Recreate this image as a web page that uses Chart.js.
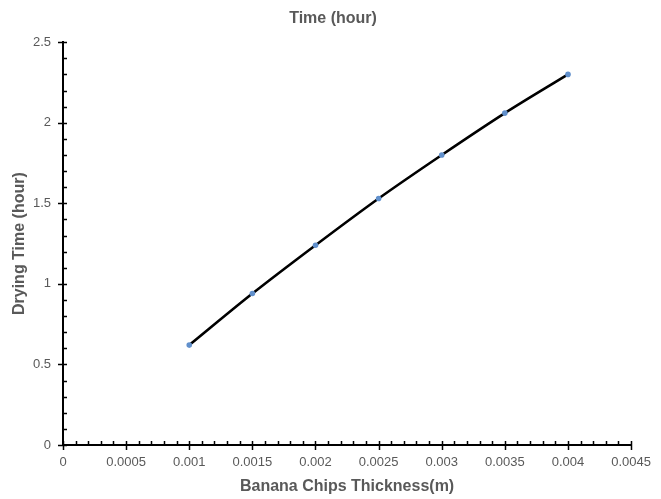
<!DOCTYPE html>
<html>
<head>
<meta charset="utf-8">
<script src="https://cdn.jsdelivr.net/npm/chart.js@4/dist/chart.umd.min.js"></script>
<style>
  html, body { margin: 0; padding: 0; background: #fff; }
  #wrap { width: 661px; height: 499px; }
</style>
</head>
<body>
<div id="wrap"><canvas id="c" width="661" height="499"></canvas></div>
<script>
// Banana chip thickness (m) and measured drying time (hour)
const thickness = [0.001, 0.0015, 0.002, 0.0025, 0.003, 0.0035, 0.004];
const dryingTime = [0.62, 0.94, 1.24, 1.53, 1.80, 2.06, 2.30];

// Axis tick values and labels
const xTickValues = [0, 0.0005, 0.001, 0.0015, 0.002, 0.0025, 0.003, 0.0035, 0.004, 0.0045];
const xTickLabels = ['0', '0.0005', '0.001', '0.0015', '0.002', '0.0025', '0.003', '0.0035', '0.004', '0.0045'];
const yTickValues = [0, 0.5, 1, 1.5, 2, 2.5];
const yTickLabels = ['0', '0.5', '1', '1.5', '2', '2.5'];

const textGrey = '#595959';
const fontFamily = '"Liberation Sans", Arial, sans-serif';

// Draws tick marks: major ticks cross the axis line, minor ticks sit inside the plot
const axisTicks = {
  id: 'axisTicks',
  afterLayout(chart) {
    // centre the chart title a little right of the canvas middle
    if (chart.titleBlock) chart.titleBlock.left = 32;
  },
  afterDraw(chart) {
    const { ctx, scales: { x, y } } = chart;
    const minorPerMajor = 5;
    ctx.save();
    ctx.strokeStyle = '#000';
    ctx.lineWidth = 1.5;
    ctx.beginPath();
    // x axis
    const xAxisY = y.getPixelForValue(0);
    for (let i = 0; i < xTickValues.length; i++) {
      const px = Math.round(x.getPixelForValue(xTickValues[i])) + 0.5;
      ctx.moveTo(px, xAxisY - 4);
      ctx.lineTo(px, xAxisY + 5);
      if (i < xTickValues.length - 1) {
        const step = (xTickValues[i + 1] - xTickValues[i]) / minorPerMajor;
        for (let k = 1; k < minorPerMajor; k++) {
          const mx = Math.round(x.getPixelForValue(xTickValues[i] + k * step)) + 0.5;
          ctx.moveTo(mx, xAxisY);
          ctx.lineTo(mx, xAxisY - 4);
        }
      }
    }
    // y axis
    const yAxisX = x.getPixelForValue(0);
    for (let i = 0; i < yTickValues.length; i++) {
      const py = Math.round(y.getPixelForValue(yTickValues[i])) + 0.5;
      ctx.moveTo(yAxisX - 5, py);
      ctx.lineTo(yAxisX + 4, py);
      if (i < yTickValues.length - 1) {
        const step = (yTickValues[i + 1] - yTickValues[i]) / minorPerMajor;
        for (let k = 1; k < minorPerMajor; k++) {
          const my = Math.round(y.getPixelForValue(yTickValues[i] + k * step)) + 0.5;
          ctx.moveTo(yAxisX, my);
          ctx.lineTo(yAxisX + 4, my);
        }
      }
    }
    ctx.stroke();
    ctx.restore();
  }
};

new Chart(document.getElementById('c'), {
  type: 'scatter',
  data: {
    datasets: [{
      label: 'Time (hour)',
      data: thickness.map((t, i) => ({ x: t, y: dryingTime[i] })),
      showLine: true,
      borderColor: '#000',
      borderWidth: 2.6,
      tension: 0.4,
      cubicInterpolationMode: 'monotone',
      pointRadius: 2.8,
      pointBackgroundColor: '#6190cc',
      pointBorderWidth: 0,
      pointHoverRadius: 3
    }]
  },
  options: {
    responsive: false,
    animation: false,
    layout: { padding: { left: 0, right: 27, top: 0, bottom: 0 } },
    plugins: {
      legend: { display: false },
      tooltip: { enabled: false },
      title: {
        display: true,
        text: 'Time (hour)',
        color: textGrey,
        font: { family: fontFamily, size: 16, weight: 'bold' },
        padding: { top: 9, bottom: 14 }
      }
    },
    scales: {
      x: {
        type: 'linear',
        min: 0,
        max: 0.0045,
        afterBuildTicks: s => { s.ticks = xTickValues.map(v => ({ value: v })); },
        afterFit: s => { s.height = 54; },
        grid: { display: false, drawTicks: false },
        border: { display: true, color: '#000', width: 2 },
        ticks: {
          color: textGrey,
          font: { family: fontFamily, size: 13 },
          padding: 10,
          maxRotation: 0,
          autoSkip: false,
          callback: v => xTickLabels[xTickValues.indexOf(v)]
        },
        title: {
          display: true,
          text: 'Banana Chips Thickness(m)',
          color: textGrey,
          font: { family: fontFamily, size: 16, weight: 'bold' },
          padding: { top: 0, bottom: 3 }
        }
      },
      y: {
        type: 'linear',
        min: 0,
        max: 2.5,
        afterBuildTicks: s => { s.ticks = yTickValues.map(v => ({ value: v })); },
        afterFit: s => { s.width = 63; },
        grid: { display: false, drawTicks: false },
        border: { display: true, color: '#000', width: 2 },
        ticks: {
          color: textGrey,
          font: { family: fontFamily, size: 13 },
          padding: 12,
          autoSkip: false,
          callback: v => yTickLabels[yTickValues.indexOf(v)]
        },
        title: {
          display: true,
          text: 'Drying Time (hour)',
          color: textGrey,
          font: { family: fontFamily, size: 16, weight: 'bold' },
          padding: { top: 10, bottom: 0 }
        }
      }
    }
  },
  plugins: [axisTicks]
});
</script>
</body>
</html>
